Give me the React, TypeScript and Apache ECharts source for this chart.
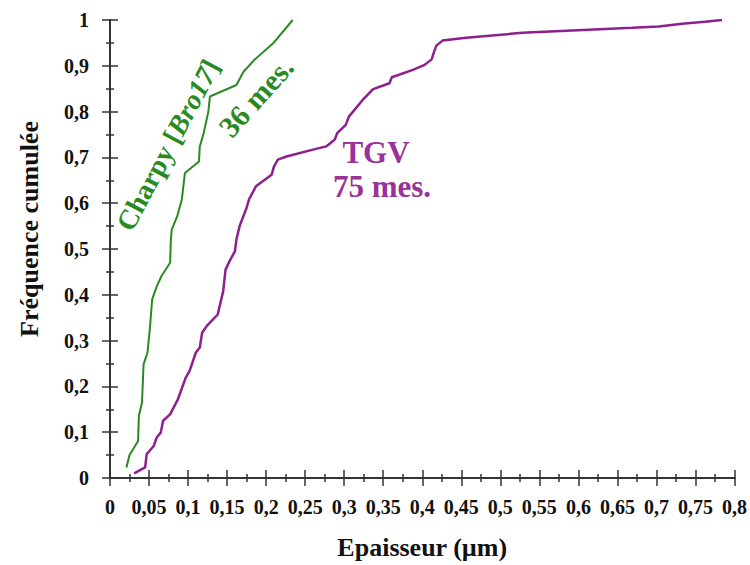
import React, { useEffect, useRef } from "react";
import * as echarts from "echarts";

const charpyX = [0.021, 0.025, 0.036, 0.037, 0.041, 0.043, 0.048, 0.051, 0.054, 0.060, 0.066, 0.077, 0.078, 0.079, 0.086, 0.092, 0.096, 0.114, 0.115, 0.120, 0.126, 0.128, 0.162, 0.171, 0.185, 0.209, 0.234];
const charpyY = [0.023, 0.05, 0.081, 0.136, 0.165, 0.248, 0.274, 0.325, 0.39, 0.419, 0.441, 0.47, 0.521, 0.542, 0.571, 0.608, 0.666, 0.691, 0.724, 0.753, 0.80, 0.833, 0.858, 0.887, 0.913, 0.949, 1.0];

const tgvX = [0.031, 0.045, 0.047, 0.051, 0.056, 0.060, 0.065, 0.068, 0.077, 0.087, 0.097, 0.102, 0.110, 0.115, 0.118, 0.124, 0.138, 0.145, 0.148, 0.153, 0.160, 0.162, 0.166, 0.175, 0.178, 0.187, 0.207, 0.210, 0.215, 0.226, 0.260, 0.277, 0.288, 0.291, 0.302, 0.306, 0.324, 0.337, 0.358, 0.361, 0.388, 0.403, 0.412, 0.415, 0.418, 0.426, 0.456, 0.528, 0.592, 0.669, 0.703, 0.733, 0.762, 0.784];
const tgvY = [0.010, 0.023, 0.052, 0.060, 0.070, 0.089, 0.099, 0.125, 0.139, 0.172, 0.219, 0.234, 0.274, 0.285, 0.317, 0.332, 0.357, 0.408, 0.455, 0.473, 0.495, 0.521, 0.550, 0.590, 0.608, 0.637, 0.662, 0.680, 0.695, 0.702, 0.717, 0.724, 0.739, 0.753, 0.771, 0.789, 0.826, 0.849, 0.862, 0.875, 0.891, 0.902, 0.914, 0.930, 0.944, 0.955, 0.961, 0.972, 0.977, 0.983, 0.986, 0.992, 0.996, 1.0];

const xLabel = "Epaisseur (µm)";
const yLabel = "Fréquence cumulée";

const FONT = "Liberation Serif";
const GREEN = "#2a8a22";
const PURPLE = "#8e1f8e";
const PURPLE_TXT = "#993399";

const fmt = (v: number) => String(+v.toFixed(2)).replace(".", ",");

export default function App() {
  const ref = useRef<HTMLDivElement>(null);
  useEffect(() => {
    if (!ref.current) return;
    const chart = echarts.init(ref.current, null, { renderer: "svg" });
    const axisLine = { show: true, lineStyle: { color: "#333", width: 2 } };
    const tick = { show: true, length: 8, lineStyle: { color: "#333", width: 1.5 } };
    const minor = { show: true, splitNumber: 2, length: 4, lineStyle: { color: "#333", width: 1.5 } };
    chart.setOption({
      animation: false,
      backgroundColor: "#fff",
      grid: { left: 110, right: 14, top: 20, bottom: 86, containLabel: false },
      xAxis: [
        {
          type: "value", min: 0, max: 0.8, interval: 0.05, position: "bottom",
          axisLine, axisTick: tick, minorTick: minor, splitLine: { show: false },
          axisLabel: { formatter: fmt, fontFamily: FONT, fontWeight: "bold", fontSize: 20, color: "#111", margin: 19 },
          name: xLabel, nameLocation: "middle", nameGap: 56,
          nameTextStyle: { fontFamily: FONT, fontWeight: "bold", fontSize: 26, color: "#111" },
        },
        {
          type: "value", min: 0, max: 0.8, interval: 0.05, position: "top",
          axisLine, axisTick: tick, minorTick: minor, splitLine: { show: false },
          axisLabel: { show: false },
        },
      ],
      yAxis: [
        {
          type: "value", min: 0, max: 1, interval: 0.1, position: "left",
          axisLine, axisTick: tick, minorTick: minor, splitLine: { show: false },
          axisLabel: { formatter: fmt, fontFamily: FONT, fontWeight: "bold", fontSize: 20, color: "#111", margin: 21 },
          name: yLabel, nameLocation: "middle", nameGap: 68,
          nameTextStyle: { fontFamily: FONT, fontWeight: "bold", fontSize: 26, color: "#111", padding: [0, 0, 0, 40] },
        },
        {
          type: "value", min: 0, max: 1, interval: 0.1, position: "right",
          axisLine, axisTick: tick, minorTick: minor, splitLine: { show: false },
          axisLabel: { show: false },
        },
      ],
      series: [
        {
          name: "Charpy [Bro17]", type: "line", xAxisIndex: 0, yAxisIndex: 0,
          data: charpyX.map((x, i) => [x, charpyY[i]]),
          showSymbol: false, lineStyle: { color: GREEN, width: 2 },
        },
        {
          name: "TGV", type: "line", xAxisIndex: 0, yAxisIndex: 0,
          data: tgvX.map((x, i) => [x, tgvY[i]]),
          showSymbol: false, lineStyle: { color: PURPLE, width: 2.5 },
        },
      ],
      graphic: [
        {
          type: "text", x: 168, y: 145, rotation: (62 * Math.PI) / 180,
          style: {
            text: "{a|Charpy [}{b|Bro17}{a|]}", align: "center", verticalAlign: "middle",
            rich: {
              a: { fontFamily: FONT, fontWeight: "bold", fontSize: 28, fill: GREEN },
              b: { fontFamily: FONT, fontWeight: "bold", fontStyle: "italic", fontSize: 28, fill: GREEN },
            },
          },
        },
        {
          type: "text", x: 256, y: 97, rotation: (48 * Math.PI) / 180,
          style: { text: "36 mes.", align: "center", verticalAlign: "middle", fontFamily: FONT, fontWeight: "bold", fontSize: 30, fill: GREEN },
        },
        {
          type: "text", x: 376, y: 152,
          style: { text: "TGV", align: "center", verticalAlign: "middle", fontFamily: FONT, fontWeight: "bold", fontSize: 31, fill: PURPLE_TXT },
        },
        {
          type: "text", x: 382, y: 186,
          style: { text: "75 mes.", align: "center", verticalAlign: "middle", fontFamily: FONT, fontWeight: "bold", fontSize: 31, fill: PURPLE_TXT },
        },
      ],
    });
    return () => chart.dispose();
  }, []);
  return <div ref={ref} style={{ position: "absolute", left: 0, top: 0, width: 750, height: 565 }} />;
}
